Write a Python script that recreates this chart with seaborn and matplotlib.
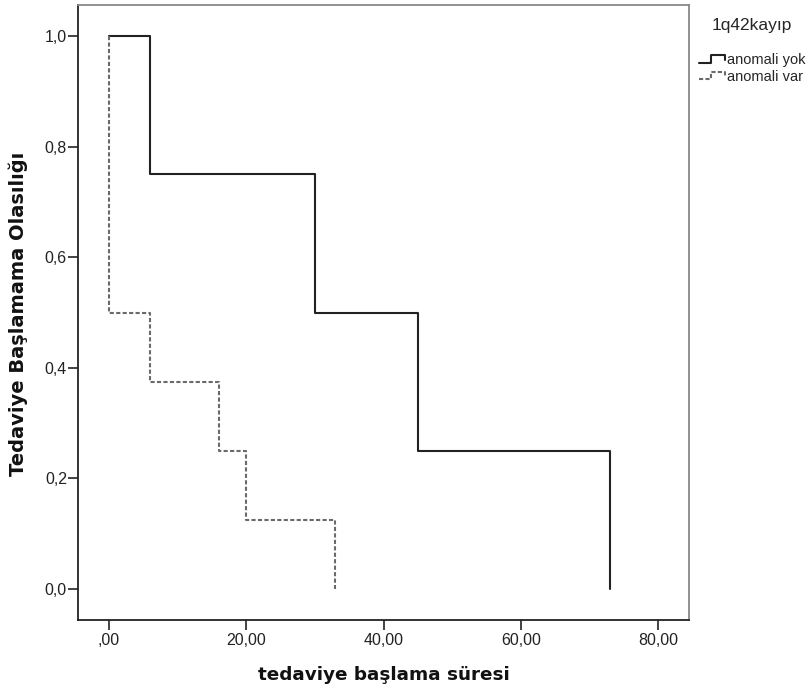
import numpy as np
import matplotlib
matplotlib.use("Agg")
import matplotlib.pyplot as plt
import seaborn as sns
import pandas as pd
from matplotlib.lines import Line2D
from matplotlib.legend_handler import HandlerLine2D
from matplotlib.ticker import FuncFormatter

# Kaplan-Meier style step curves
group_names = ["anomali yok", "anomali var"]
yok_time = [0, 6, 30, 45, 73]
yok_surv = [1.0, 0.75, 0.5, 0.25, 0.0]
var_time = [0, 0, 6, 16, 20, 33]
var_surv = [1.0, 0.5, 0.375, 0.25, 0.125, 0.0]

x_ticks = [0, 20, 40, 60, 80]
y_ticks = [0.0, 0.2, 0.4, 0.6, 0.8, 1.0]

df = pd.concat([
    pd.DataFrame({"t": yok_time, "s": yok_surv, "grp": group_names[0]}),
    pd.DataFrame({"t": var_time, "s": var_surv, "grp": group_names[1]}),
], ignore_index=True)

sns.set_style("ticks")
plt.rcParams["font.family"] = ["Liberation Sans", "DejaVu Sans"]

DASH = (0, (2.0, 1.1))

fig = plt.figure(figsize=(8.09, 6.92), dpi=100)
ax = fig.add_axes([0.0964, 0.104, 0.7553, 0.8888])

sns.lineplot(data=df[df.grp == group_names[0]], x="t", y="s", sort=False,
             estimator=None, drawstyle="steps-post", color="#222222",
             linewidth=1.5, ax=ax)
sns.lineplot(data=df[df.grp == group_names[1]], x="t", y="s", sort=False,
             estimator=None, drawstyle="steps-post", color="#6a6a6a",
             linewidth=1.5, linestyle=DASH, ax=ax)

ax.set_xlim(-4.5, 84.5)
ax.set_ylim(-0.056, 1.056)
ax.set_xticks(x_ticks)
ax.set_yticks(y_ticks)

def xfmt(v, pos):
    s = f"{v:.2f}".replace(".", ",")
    return s[1:] if s.startswith("0,") else s

ax.xaxis.set_major_formatter(FuncFormatter(xfmt))
ax.yaxis.set_major_formatter(FuncFormatter(lambda v, p: f"{v:.1f}".replace(".", ",")))
ax.tick_params(axis="both", direction="out", length=7, width=1.2, colors="#222222",
               labelsize=11.5, labelcolor="#222222")
ax.tick_params(axis="x", pad=2)
ax.tick_params(axis="y", pad=1)

for side in ["left", "bottom"]:
    ax.spines[side].set_color("#222222")
    ax.spines[side].set_linewidth(1.3)
for side in ["right", "top"]:
    ax.spines[side].set_visible(True)
    ax.spines[side].set_color("#888888")
    ax.spines[side].set_linewidth(1.3)

ax.set_xlabel("tedaviye başlama süresi", fontsize=13.2, fontweight="bold",
              family=["DejaVu Sans"], color="#111111")
ax.set_ylabel("Tedaviye Başlamama Olasılığı", fontsize=14, fontweight="bold",
              family=["DejaVu Sans"], color="#111111")
ax.xaxis.set_label_coords(0.5, -0.074)
ax.yaxis.set_label_coords(-0.081, 0.497)


class StepHandler(HandlerLine2D):
    # little step glyph like the SPSS legend
    def create_artists(self, legend, orig_handle, xdescent, ydescent,
                       width, height, fontsize, trans):
        x0, x1 = -xdescent, -xdescent + width
        xm = x0 + 0.45 * width
        ylo, yhi = -ydescent + 0.15 * height, -ydescent + 0.85 * height
        ln = Line2D([x0, xm, xm, x1, x1], [ylo, ylo, yhi, yhi, ylo + 0.25 * height])
        self.update_prop(ln, orig_handle, legend)
        ln.set_transform(trans)
        return [ln]


handles = [
    Line2D([], [], color="#222222", linewidth=1.5),
    Line2D([], [], color="#6a6a6a", linewidth=1.5, linestyle=DASH),
]
leg = fig.legend(handles, group_names, title="1q42kayıp\n", loc="upper left",
                 bbox_to_anchor=(0.853, 0.987), frameon=False, fontsize=10.5,
                 title_fontsize=12.5, handlelength=1.8, handletextpad=0.15,
                 labelspacing=0.2, borderpad=0.1,
                 handler_map={Line2D: StepHandler()})

fig.savefig("out.png", dpi=100)
